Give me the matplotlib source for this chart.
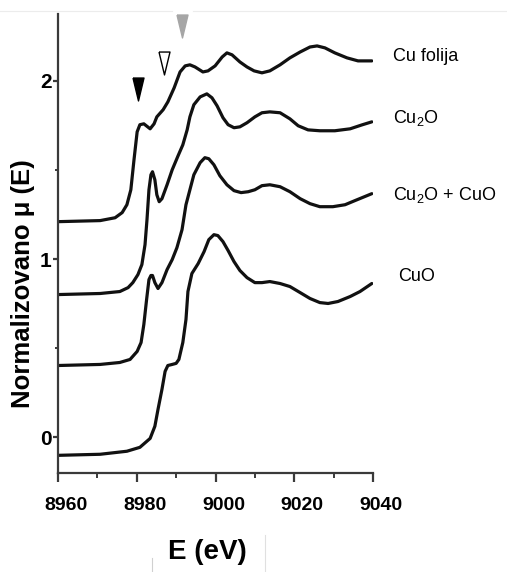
import matplotlib
matplotlib.use("Agg")
import matplotlib.pyplot as plt
import matplotlib.transforms as mtransforms
from matplotlib.lines import Line2D
from matplotlib.ticker import MultipleLocator

plt.rcParams['font.family'] = ['Liberation Sans', 'DejaVu Sans']
plt.rcParams['mathtext.fontset'] = 'custom'
plt.rcParams['mathtext.rm'] = 'Liberation Sans'
plt.rcParams['mathtext.it'] = 'Liberation Sans:italic'

# spectra (energy in eV, offset normalized absorption)
cu_foil_E = [8960, 8970.7, 8974.5, 8976.3, 8977.5, 8978.5, 8979.3, 8980.1, 8980.8, 8981.8,
             8983.4, 8984.4, 8985.1, 8986.7, 8987.9, 8989.5, 8991.0, 8992.3, 8993.5, 8994.8,
             8996.8, 8998.1, 8999.9, 9001.7, 9002.9, 9004.2, 9006.2, 9008.0, 9009.8, 9011.8,
             9013.8, 9016.4, 9018.9, 9021.5, 9024.0, 9025.8, 9027.8, 9030.3, 9033.4, 9036.2, 9039.7]
cu_foil_mu = [1.210, 1.216, 1.232, 1.261, 1.305, 1.389, 1.557, 1.714, 1.754, 1.759,
              1.731, 1.759, 1.798, 1.838, 1.882, 1.961, 2.050, 2.084, 2.090, 2.078,
              2.050, 2.056, 2.084, 2.134, 2.157, 2.146, 2.106, 2.078, 2.056, 2.045,
              2.056, 2.090, 2.129, 2.162, 2.190, 2.196, 2.185, 2.157, 2.129, 2.112, 2.112]

cu2o_E = [8960, 8970.7, 8975.7, 8977.8, 8979.0, 8980.3, 8981.3, 8982.1, 8982.6, 8983.1,
          8983.6, 8984.0, 8984.6, 8985.1, 8985.7, 8986.4, 8987.7, 8989.0, 8990.5, 8991.7,
          8992.8, 8993.5, 8994.5, 8996.1, 8997.8, 8999.1, 9000.4, 9001.9, 9003.2, 9004.7,
          9006.2, 9008.0, 9010.0, 9011.8, 9013.8, 9016.4, 9018.9, 9021.0, 9023.5, 9026.5,
          9030.3, 9034.2, 9037.2, 9039.7]
cu2o_mu = [0.801, 0.807, 0.818, 0.840, 0.868, 0.913, 0.969, 1.081, 1.221, 1.389,
           1.473, 1.490, 1.445, 1.361, 1.322, 1.339, 1.417, 1.501, 1.580, 1.641,
           1.725, 1.798, 1.866, 1.910, 1.927, 1.905, 1.860, 1.793, 1.754, 1.737,
           1.742, 1.765, 1.798, 1.821, 1.826, 1.821, 1.787, 1.748, 1.725, 1.720,
           1.720, 1.731, 1.753, 1.770]

mix_E = [8960, 8970.7, 8975.7, 8978.3, 8980.1, 8981.1, 8981.8, 8982.5, 8983.1, 8983.6,
         8984.0, 8984.6, 8985.4, 8986.4, 8987.7, 8989.0, 8990.2, 8991.5, 8992.5, 8993.5,
         8994.5, 8996.1, 8997.3, 8998.3, 8999.6, 9001.1, 9002.9, 9004.7, 9006.5, 9008.3,
         9010.0, 9011.8, 9013.8, 9016.4, 9018.9, 9021.5, 9024.0, 9026.5, 9029.8, 9032.9,
         9035.4, 9039.7]
mix_mu = [0.403, 0.409, 0.420, 0.437, 0.482, 0.532, 0.633, 0.773, 0.885, 0.908,
          0.908, 0.868, 0.835, 0.868, 0.941, 0.997, 1.064, 1.165, 1.305, 1.389,
          1.473, 1.541, 1.569, 1.563, 1.529, 1.468, 1.417, 1.384, 1.373, 1.378,
          1.389, 1.412, 1.417, 1.406, 1.378, 1.339, 1.311, 1.294, 1.294, 1.305,
          1.328, 1.367]

cuo_E = [8960, 8970.7, 8977.5, 8980.8, 8983.4, 8984.6, 8985.4, 8986.4, 8987.2, 8987.9,
         8989.0, 8990.0, 8990.7, 8991.7, 8992.5, 8993.0, 8994.0, 8995.6, 8997.1, 8998.3,
         8999.6, 9000.6, 9001.9, 9003.2, 9004.7, 9006.2, 9008.0, 9010.0, 9011.8, 9013.8,
         9016.4, 9018.9, 9021.5, 9024.0, 9026.5, 9028.6, 9031.1, 9034.2, 9036.7, 9039.7]
cuo_mu = [-0.101, -0.095, -0.078, -0.056, -0.006, 0.062, 0.157, 0.269, 0.370, 0.403,
          0.409, 0.415, 0.437, 0.532, 0.661, 0.818, 0.919, 0.975, 1.042, 1.109,
          1.137, 1.132, 1.098, 1.048, 0.986, 0.936, 0.896, 0.868, 0.868, 0.874,
          0.863, 0.846, 0.812, 0.779, 0.756, 0.751, 0.762, 0.790, 0.818, 0.863]

labels = ['Cu folija', 'Cu$_2$O', 'Cu$_2$O + CuO', 'CuO']
label_E = [9045.1, 9045.1, 9045.1, 9046.3]
label_mu = [2.134, 1.793, 1.361, 0.902]

# marker triangles above the edge features
tri_E = [8980.4, 8986.8, 8991.6]
tri_mu = [1.955, 2.098, 2.31]
tri_face = ['black', 'white', '#a6a6a6']
tri_edge = ['black', 'black', '#a6a6a6']

fig = plt.figure(figsize=(5.07, 5.72), dpi=100)
ax = fig.add_axes([0.1144, 0.1731, 0.6213, 0.8024])

for E, mu in [(cu_foil_E, cu_foil_mu), (cu2o_E, cu2o_mu), (mix_E, mix_mu), (cuo_E, cuo_mu)]:
    ax.plot(E, mu, color='#111111', lw=2.3, solid_capstyle='round', solid_joinstyle='round')

tri_shape = [(-0.24, 0.5), (0.24, 0.5), (0, -0.5), (-0.24, 0.5)]
for E, mu, fc, ec in zip(tri_E, tri_mu, tri_face, tri_edge):
    ax.plot(E, mu, marker=tri_shape, markersize=16.5, markerfacecolor=fc,
            markeredgecolor=ec, markeredgewidth=1.0, linestyle='none', clip_on=False)

for txt, E, mu in zip(labels, label_E, label_mu):
    ax.text(E, mu, txt, fontsize=13, va='center', ha='left', clip_on=False)

ax.set_xlim(8960, 9040)
ax.set_ylim(-0.2, 2.375)
ax.xaxis.set_major_locator(MultipleLocator(20))
ax.xaxis.set_minor_locator(MultipleLocator(10))
ax.yaxis.set_major_locator(MultipleLocator(1))
ax.yaxis.set_minor_locator(MultipleLocator(0.5))

for side in ['top', 'right']:
    ax.spines[side].set_visible(False)
for side in ['left', 'bottom']:
    ax.spines[side].set_color('#3a3a3a')
    ax.spines[side].set_linewidth(1.6)

ax.tick_params(axis='x', which='major', direction='out', length=6.5, width=1.6,
               color='#3a3a3a', pad=11, labelsize=14)
ax.tick_params(axis='x', which='minor', direction='out', length=3.5, width=1.4, color='#3a3a3a')
ax.tick_params(axis='y', which='major', direction='out', length=3.5, width=1.6,
               color='#3a3a3a', pad=1, labelsize=15)
ax.tick_params(axis='y', which='minor', direction='out', length=2, width=1.4, color='#3a3a3a')
for lab in ax.get_xticklabels():
    lab.set_fontweight('bold')
    lab.set_transform(lab.get_transform() + mtransforms.ScaledTranslation(0.08, 0, fig.dpi_scale_trans))
for lab in ax.get_yticklabels():
    lab.set_fontweight('bold')

fig.text(0.046, 0.505, 'Normalizovano μ (E)', rotation=90, fontsize=18.5, fontweight='bold',
         ha='center', va='center')
fig.text(0.41, 0.035, 'E (eV)', fontsize=20, fontweight='bold', ha='center', va='center')

# faint crop lines from the source image
fig.add_artist(Line2D([0, 0.339], [0.981, 0.981], color='#ececec', lw=0.8))
fig.add_artist(Line2D([0.381, 1], [0.981, 0.981], color='#ececec', lw=0.8))
fig.add_artist(Line2D([0.30, 0.30], [0, 0.025], color='#d0d0d0', lw=0.8))
fig.add_artist(Line2D([0.523, 0.523], [0, 0.065], color='#e0e0e0', lw=0.8))

fig.savefig('out.png', dpi=100)
